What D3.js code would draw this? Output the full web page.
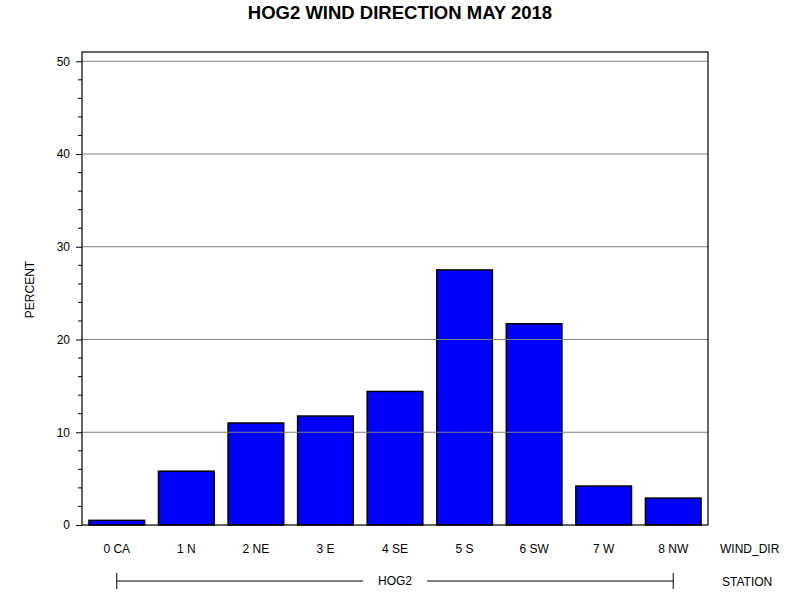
<!DOCTYPE html>
<html>
<head>
<meta charset="utf-8">
<script src="https://cdn.jsdelivr.net/npm/d3@7"></script>
<style>
  body { margin: 0; background: #fff; }
  text { font-family: "Liberation Sans", Arial, sans-serif; fill: #000; }
</style>
</head>
<body>
<div id="chart"></div>
<script>
// data
let windDirs = ['0 CA', '1 N', '2 NE', '3 E', '4 SE', '5 S', '6 SW', '7 W', '8 NW'];
let percents = [0.5, 5.8, 11.0, 11.75, 14.4, 27.5, 21.7, 4.2, 2.9];
let yTicks = [0, 10, 20, 30, 40, 50];
let stationName = 'HOG2';

let width = 800, height = 600;
let plotL = 82, plotR = 708, plotT = 52, plotB = 525;

let svg = d3.select('#chart').append('svg')
    .attr('width', width)
    .attr('height', height);

let x = d3.scaleBand()
    .domain(windDirs)
    .range([plotL, plotR])
    .paddingInner(0.2)
    .paddingOuter(0.1);

let y = d3.scaleLinear()
    .domain([0, 51])
    .range([plotB, plotT]);

// title
svg.append('text')
    .attr('x', 400)
    .attr('y', 19)
    .attr('text-anchor', 'middle')
    .style('font-size', '18.5px')
    .style('font-weight', 'bold')
    .text('HOG2 WIND DIRECTION MAY 2018');

// bars
svg.selectAll('.bar')
    .data(percents)
    .enter()
    .append('rect')
    .attr('class', 'bar')
    .attr('x', (d, i) => x(windDirs[i]))
    .attr('y', d => y(d))
    .attr('width', x.bandwidth())
    .attr('height', d => y(0) - y(d))
    .attr('fill', '#0000ff')
    .attr('stroke', '#000')
    .attr('stroke-width', 1.5);

// grid lines (drawn on top of bars like the original)
svg.selectAll('.grid')
    .data(yTicks.filter(d => d > 0))
    .enter()
    .append('line')
    .attr('x1', plotL)
    .attr('x2', plotR)
    .attr('y1', d => y(d))
    .attr('y2', d => y(d))
    .attr('stroke', '#808080')
    .attr('stroke-width', 1);

// frame
svg.append('rect')
    .attr('x', plotL)
    .attr('y', plotT)
    .attr('width', plotR - plotL)
    .attr('height', plotB - plotT)
    .attr('fill', 'none')
    .attr('stroke', '#000')
    .attr('stroke-width', 1.2);

// y axis
let yAxis = d3.axisLeft(y)
    .tickValues(yTicks)
    .tickSize(6)
    .tickPadding(6);

let yG = svg.append('g')
    .attr('transform', `translate(${plotL},0)`)
    .call(yAxis);
yG.select('.domain').remove();
yG.selectAll('text').style('font-size', '12px').style('font-family', '"Liberation Sans", Arial, sans-serif');

// minor ticks every 2
let minor = d3.range(0, 51, 2).filter(d => d % 10 != 0);
svg.selectAll('.minor')
    .data(minor)
    .enter()
    .append('line')
    .attr('x1', plotL - 4)
    .attr('x2', plotL)
    .attr('y1', d => y(d))
    .attr('y2', d => y(d))
    .attr('stroke', '#000');

svg.append('text')
    .attr('transform', `translate(34,${(plotT + plotB) / 2 + 1}) rotate(-90)`)
    .attr('text-anchor', 'middle')
    .style('font-size', '12px')
    .text('PERCENT');

// x labels
let xG = svg.append('g')
    .attr('transform', `translate(0,${plotB})`)
    .call(d3.axisBottom(x).tickSize(0).tickPadding(19));
xG.select('.domain').remove();
xG.selectAll('text').style('font-size', '12px').style('font-family', '"Liberation Sans", Arial, sans-serif');

svg.append('text')
    .attr('x', 720)
    .attr('y', 553)
    .style('font-size', '12px')
    .text('WIND_DIR');

// station row
let sx1 = x(windDirs[0]) + x.bandwidth() / 2;
let sx2 = x(windDirs[windDirs.length - 1]) + x.bandwidth() / 2;
let sy = 581;
let mid = (sx1 + sx2) / 2;

svg.append('line').attr('x1', sx1).attr('x2', mid - 32).attr('y1', sy).attr('y2', sy).attr('stroke', '#000');
svg.append('line').attr('x1', mid + 32).attr('x2', sx2).attr('y1', sy).attr('y2', sy).attr('stroke', '#000');
svg.append('line').attr('x1', sx1).attr('x2', sx1).attr('y1', sy - 8).attr('y2', sy + 8).attr('stroke', '#000');
svg.append('line').attr('x1', sx2).attr('x2', sx2).attr('y1', sy - 8).attr('y2', sy + 8).attr('stroke', '#000');

svg.append('text')
    .attr('x', mid)
    .attr('y', sy + 4)
    .attr('text-anchor', 'middle')
    .style('font-size', '12px')
    .text(stationName);

svg.append('text')
    .attr('x', 722)
    .attr('y', sy + 5)
    .style('font-size', '12px')
    .text('STATION');
</script>
</body>
</html>
